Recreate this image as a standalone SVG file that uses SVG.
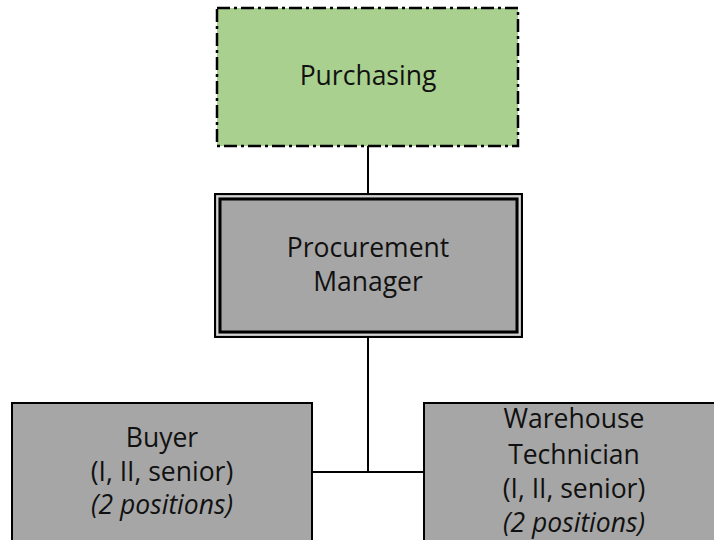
<svg xmlns="http://www.w3.org/2000/svg" width="714" height="540" viewBox="0 0 714 540">
  <style>
    .lbl { font-family: "Open Sans", "Liberation Sans", sans-serif; font-size: 26.5px; fill: #111; text-anchor: middle; }
    .it { font-style: italic; }
    .box { fill: #A6A6A6; stroke: #000; stroke-width: 2; }
    .wire { fill: none; stroke: #000; stroke-width: 2; }
  </style>
  <rect width="714" height="540" fill="#fff"/>

  <!-- reporting lines -->
  <g id="connectors">
    <line class="wire" x1="368" y1="146" x2="368" y2="194"/>
    <line class="wire" x1="368" y1="337" x2="368" y2="472"/>
    <line class="wire" x1="312" y1="472" x2="424" y2="472"/>
  </g>

  <g id="purchasing">
    <rect x="217" y="8" width="301" height="138" fill="#A9D08E" stroke="#000" stroke-width="2.5" stroke-dasharray="13 4 3 4"/>
    <text class="lbl" x="368" y="85">Purchasing</text>
  </g>

  <g id="procurement-manager">
    <rect x="215" y="194" width="307" height="143" fill="#A6A6A6" stroke="#000" stroke-width="2"/>
    <rect x="217.5" y="196.5" width="302" height="138" fill="none" stroke="#d4d4d4" stroke-width="2"/>
    <rect x="220" y="199" width="297" height="133" fill="none" stroke="#000" stroke-width="3"/>
    <text class="lbl" x="368" y="257">Procurement</text>
    <text class="lbl" x="368" y="291">Manager</text>
  </g>

  <g id="buyer">
    <rect class="box" x="12" y="403" width="300" height="150"/>
    <text class="lbl" x="162" y="447">Buyer</text>
    <text class="lbl" x="162" y="481">(I, II, senior)</text>
    <text class="lbl it" x="162" y="514">(2 positions)</text>
  </g>

  <g id="warehouse-technician">
    <rect class="box" x="424" y="403" width="300" height="150"/>
    <text class="lbl" x="574" y="428">Warehouse</text>
    <text class="lbl" x="574" y="464">Technician</text>
    <text class="lbl" x="574" y="498">(I, II, senior)</text>
    <text class="lbl it" x="574" y="532">(2 positions)</text>
  </g>
</svg>
